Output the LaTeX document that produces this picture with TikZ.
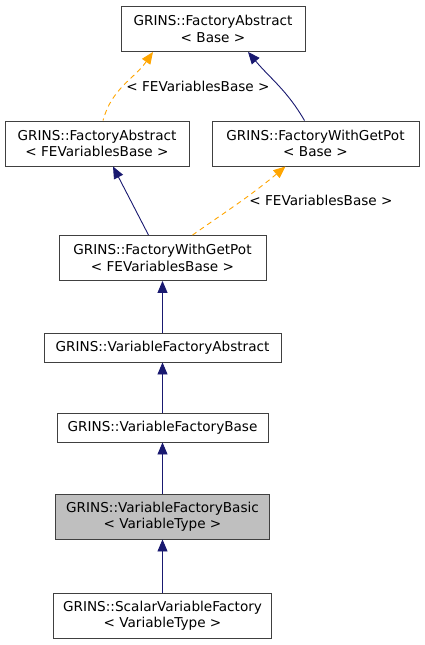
\documentclass[tikz,border=0pt]{standalone}
\usepackage{fontspec}
\setmainfont{DejaVu Sans}
\usetikzlibrary{arrows.meta}

\definecolor{edgenavy}{RGB}{25,25,112}
\definecolor{edgeorange}{RGB}{255,165,0}
\definecolor{boxline}{RGB}{64,64,64}
\definecolor{boxfill}{RGB}{191,191,191}

\tikzset{
	classbox/.style={draw=boxline, line width=0.9pt, fill=white, align=center, inner sep=0pt,
		font=\fontsize{13.6}{16.5}\selectfont},
	twoline/.style={classbox, minimum height=45pt},
	oneline/.style={classbox, minimum height=29pt},
	inherit/.style={draw=edgenavy, line width=0.9pt, {Triangle[length=12pt,width=10pt]}-},
	tmplinst/.style={draw=edgeorange, line width=0.9pt, dash pattern=on 5pt off 4pt,
		{Triangle[length=12pt,width=10pt,fill=edgeorange]}-},
	tmpllabel/.style={font=\fontsize{13.6}{16}\selectfont}
}

\begin{document}
\begin{tikzpicture}[x=1pt,y=-1pt]
	\useasboundingbox (0,0) rectangle (424,645);
	%Classes
	\node [twoline, minimum width=184pt] (faBase) at (213,29) {GRINS::FactoryAbstract\\< Base >};
	\node [twoline, minimum width=184pt] (faFEVB) at (97,143.5) {GRINS::FactoryAbstract\\< FEVariablesBase >};
	\node [twoline, minimum width=207pt] (fwgpBase) at (315.5,143.5) {GRINS::FactoryWithGetPot\\< Base >};
	\node [twoline, minimum width=207pt] (fwgpFEVB) at (162.5,258) {GRINS::FactoryWithGetPot\\< FEVariablesBase >};
	\node [oneline, minimum width=237pt] (vfAbstract) at (162.5,347.5) {GRINS::VariableFactoryAbstract};
	\node [oneline, minimum width=211pt] (vfBase) at (162.5,427.5) {GRINS::VariableFactoryBase};
	\node [twoline, minimum width=214pt, fill=boxfill] (vfBasic) at (162.5,516.5) {GRINS::VariableFactoryBasic\\< VariableType >};
	\node [twoline, minimum width=218pt] (scalarVF) at (162.5,615.5) {GRINS::ScalarVariableFactory\\< VariableType >};
	%Template instances
	\draw [tmplinst] ([xshift=-60pt]faBase.south) to [out=-125,in=75] ([xshift=6pt]faFEVB.north);
	\node [tmpllabel] (lblA) at (198,86) {< FEVariablesBase >};
	\draw [tmplinst] ([xshift=-30pt]fwgpBase.south) to [out=-140,in=35] ([xshift=30pt]fwgpFEVB.north);
	\node [tmpllabel] (lblB) at (321,200) {< FEVariablesBase >};
	%Inheritance
	\draw [inherit] ([xshift=35pt]faBase.south) to [out=-50,in=120] ([xshift=-11pt]fwgpBase.north);
	\draw [inherit] ([xshift=16pt]faFEVB.south) -- ([xshift=-14pt]fwgpFEVB.north);
	\draw [inherit] (fwgpFEVB.south) -- (vfAbstract.north);
	\draw [inherit] (vfAbstract.south) -- (vfBase.north);
	\draw [inherit] (vfBase.south) -- (vfBasic.north);
	\draw [inherit] (vfBasic.south) -- (scalarVF.north);
\end{tikzpicture}
\end{document}
